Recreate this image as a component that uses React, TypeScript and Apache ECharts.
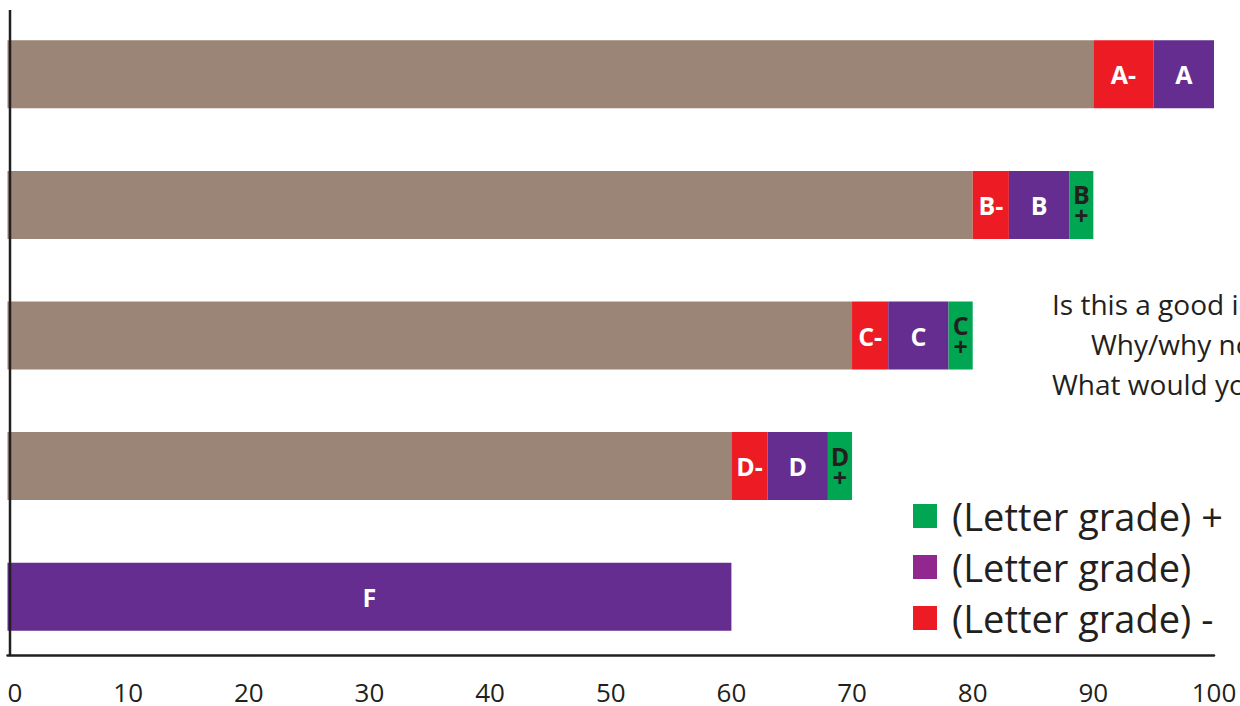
import React, { useEffect, useRef } from "react";
import * as echarts from "echarts";

const categories = ["A", "B", "C", "D", "F"];
const baseValues = [90, 80, 70, 60, 0];
const minusValues = [5, 3, 3, 3, 0];
const midValues = [5, 5, 5, 5, 60];
const plusValues = [0, 2, 2, 2, 0];
const minusLabels = ["A-", "B-", "C-", "D-", ""];
const midLabels = ["A", "B", "C", "D", "F"];
const plusLabels = ["", "B\n+", "C\n+", "D\n+", ""];
const legendNames = ["(Letter grade) +", "(Letter grade)", "(Letter grade) -"];
const noteLines = ["Is this a good idea?", "Why/why not?", "What would you do?"];

const FONT = "'Open Sans', 'Noto Sans', sans-serif";
const DARK = "#231F20";
const BROWN = "#9A8576";
const RED = "#ED1C24";
const PURPLE = "#652D90";
const LEGEND_PURPLE = "#92278F";
const GREEN = "#00A651";

export default function App() {
  const ref = useRef<HTMLDivElement>(null);
  useEffect(() => {
    if (!ref.current) return;
    const chart = echarts.init(ref.current, undefined, { renderer: "svg" });
    const mk = (vals: number[], labels: string[], name: string, color: string, labelColor: string, extra: any = {}) => ({
      type: "bar",
      name,
      stack: "total",
      barWidth: 68,
      itemStyle: { color },
      data: vals.map((v, i) => ({
        value: v,
        label: {
          show: labels[i] !== "",
          formatter: labels[i],
        },
      })),
      label: {
        position: "inside",
        color: labelColor,
        fontFamily: FONT,
        fontWeight: "bold",
        fontSize: 25,
        ...extra,
      },
    });
    chart.setOption({
      animation: false,
      grid: { left: 7.5, right: 26, top: 9, bottom: 44 },
      xAxis: {
        type: "value",
        min: 0,
        max: 100,
        interval: 10,
        offset: -7,
        axisLine: { show: true, lineStyle: { color: DARK, width: 2.5 } },
        axisTick: { show: false },
        splitLine: { show: false },
        axisLabel: {
          color: DARK,
          fontFamily: FONT,
          fontSize: 26,
          lineHeight: 26,
          margin: 24,
          alignMinLabel: "left",
        },
      },
      yAxis: {
        type: "category",
        inverse: true,
        data: categories,
        axisLine: { show: false },
        axisTick: { show: false },
        axisLabel: { show: false },
      },
      legend: {
        orient: "vertical",
        left: 908,
        top: 492,
        itemWidth: 24,
        itemHeight: 24,
        itemGap: 13,
        icon: "rect",
        textStyle: { color: DARK, fontFamily: FONT, fontSize: 38, lineHeight: 38, padding: [0, 0, 0, 10] },
        data: [
          { name: legendNames[0], itemStyle: { color: GREEN } },
          { name: legendNames[1], itemStyle: { color: LEGEND_PURPLE } },
          { name: legendNames[2], itemStyle: { color: RED } },
        ],
      },
      graphic: [
        { type: "line", z: 10, shape: { x1: 10, y1: 10, x2: 10, y2: 655 }, style: { stroke: DARK, lineWidth: 2.5 } },
        { type: "text", left: 1052, top: 290, style: { text: noteLines[0], fill: DARK, font: `28px ${FONT}` } },
        { type: "text", left: 1091, top: 330, style: { text: noteLines[1], fill: DARK, font: `28px ${FONT}` } },
        { type: "text", left: 1052, top: 370, style: { text: noteLines[2], fill: DARK, font: `28px ${FONT}` } },
      ],
      series: [
        { type: "bar", name: "base", stack: "total", barWidth: 68, itemStyle: { color: BROWN }, data: baseValues },
        mk(minusValues, minusLabels, legendNames[2], RED, "#FFFFFF"),
        mk(midValues, midLabels, legendNames[1], PURPLE, "#FFFFFF"),
        mk(plusValues, plusLabels, legendNames[0], GREEN, DARK, { lineHeight: 21, fontSize: 25 }),
      ],
    });
    return () => chart.dispose();
  }, []);
  return <div ref={ref} style={{ width: 1240, height: 706, position: "absolute", left: 0, top: 0 }} />;
}
